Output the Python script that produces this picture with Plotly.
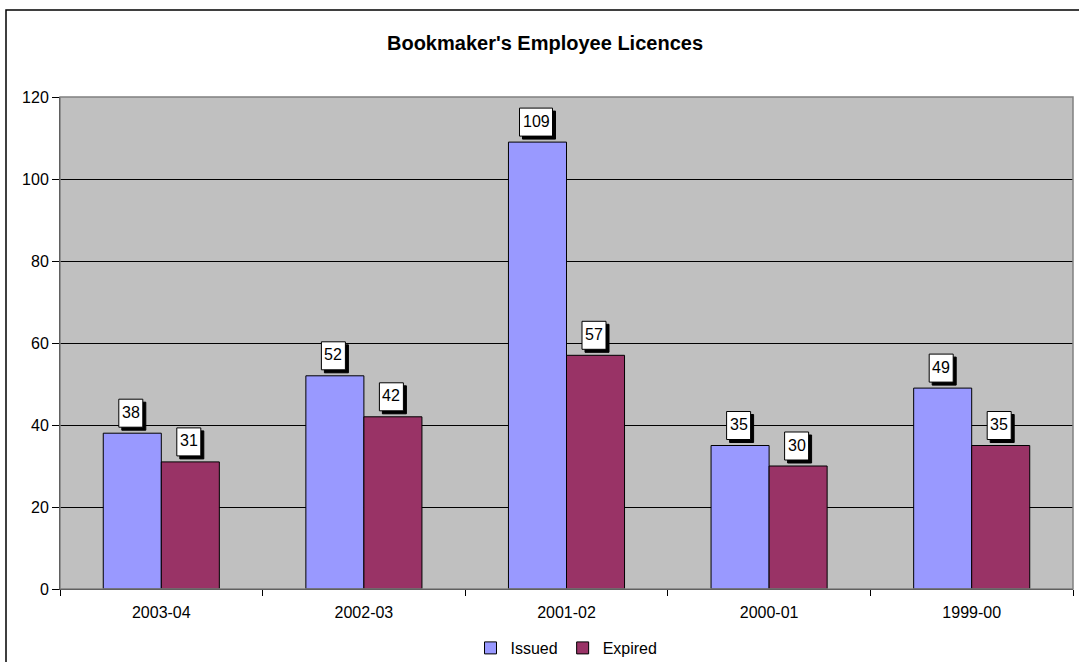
import plotly.graph_objects as go

seasons = ["2003-04", "2002-03", "2001-02", "2000-01", "1999-00"]
issued = [38, 52, 109, 35, 49]
expired = [31, 42, 57, 30, 35]

ISSUED_COLOR = "#9999FF"
EXPIRED_COLOR = "#993366"
FONT = "Liberation Sans, Arial, sans-serif"

fig = go.Figure()
fig.add_trace(go.Bar(name="Issued", x=seasons, y=issued,
                     marker=dict(color=ISSUED_COLOR, line=dict(color="black", width=1))))
fig.add_trace(go.Bar(name="Expired", x=seasons, y=expired,
                     marker=dict(color=EXPIRED_COLOR, line=dict(color="black", width=1))))

# plot area geometry (pixels)
W, H = 1079, 662
ML, MR, MT, MB = 60, 6, 97, 73
pw = W - ML - MR
ph = H - MT - MB
bar_px = 58  # rendered width of one bar


def add_value_label(cat, val, shift):
    txt = str(val)
    w = 33 if len(txt) > 2 else 24
    h = 28
    gap = 6
    cx = shift - 1.5
    box = dict(type="rect", xref="x", yref="y", xsizemode="pixel", ysizemode="pixel",
               xanchor=cat, yanchor=val, layer="above")
    # drop shadow, offset down and right
    fig.add_shape(x0=cx - w / 2 + 3, x1=cx + w / 2 + 3, y0=gap - 3, y1=gap + h - 3,
                  line=dict(color="black", width=1), fillcolor="black", **box)
    # white label box
    fig.add_shape(x0=cx - w / 2, x1=cx + w / 2, y0=gap, y1=gap + h,
                  line=dict(color="black", width=1), fillcolor="white", **box)
    fig.add_annotation(text=txt, x=cat, y=val, xref="x", yref="y", showarrow=False,
                       xanchor="center", yanchor="middle", xshift=cx, yshift=gap + h / 2 + 1,
                       font=dict(family=FONT, size=16, color="black"))


for s, v in zip(seasons, issued):
    add_value_label(s, v, -bar_px / 2)
for s, v in zip(seasons, expired):
    add_value_label(s, v, bar_px / 2)

# outer chart frame
fig.add_shape(type="rect", xref="paper", yref="paper",
              x0=(6 - ML) / pw, x1=(W + 10 - ML) / pw,
              y0=-(H + 10 - (H - MB)) / ph, y1=(H - MB - 10) / ph,
              line=dict(color="black", width=1.5), fillcolor="rgba(0,0,0,0)", layer="above")
# plot area frame
fig.add_shape(type="rect", xref="paper", yref="paper", x0=0, x1=1, y0=0, y1=1,
              line=dict(color="#808080", width=1.5), fillcolor="rgba(0,0,0,0)", layer="above")

fig.update_layout(
    width=W, height=H,
    margin=dict(l=ML, r=MR, t=MT, b=MB, autoexpand=False),
    paper_bgcolor="white",
    plot_bgcolor="#C0C0C0",
    barmode="group",
    bargap=0.427,
    bargroupgap=0,
    font=dict(family=FONT, size=16, color="black"),
    title=dict(text="<b>Bookmaker's Employee Licences</b>", x=545 / W, xref="container",
               xanchor="center", y=1 - 43 / H, yref="container", yanchor="middle",
               font=dict(family=FONT, size=20, color="black")),
    showlegend=True,
    legend=dict(orientation="h", x=0.5, xanchor="center", xref="paper",
                y=1 - 648 / H, yref="container", yanchor="middle",
                font=dict(family=FONT, size=16, color="black"),
                itemwidth=30, tracegroupgap=0, bgcolor="rgba(0,0,0,0)"),
    xaxis=dict(type="category", showline=True, linecolor="black", linewidth=1,
               ticks="outside", tickson="boundaries", ticklen=6, tickcolor="black",
               ticklabelstandoff=9,
               showgrid=False, tickfont=dict(family=FONT, size=16, color="black")),
    yaxis=dict(range=[0, 120], tick0=0, dtick=20, showline=True, linecolor="black",
               linewidth=1, ticks="outside", ticklen=7, tickcolor="black",
               showgrid=True, gridcolor="black", gridwidth=1, zeroline=False,
               tickfont=dict(family=FONT, size=16, color="black")),
)

fig.write_html("out.html")
